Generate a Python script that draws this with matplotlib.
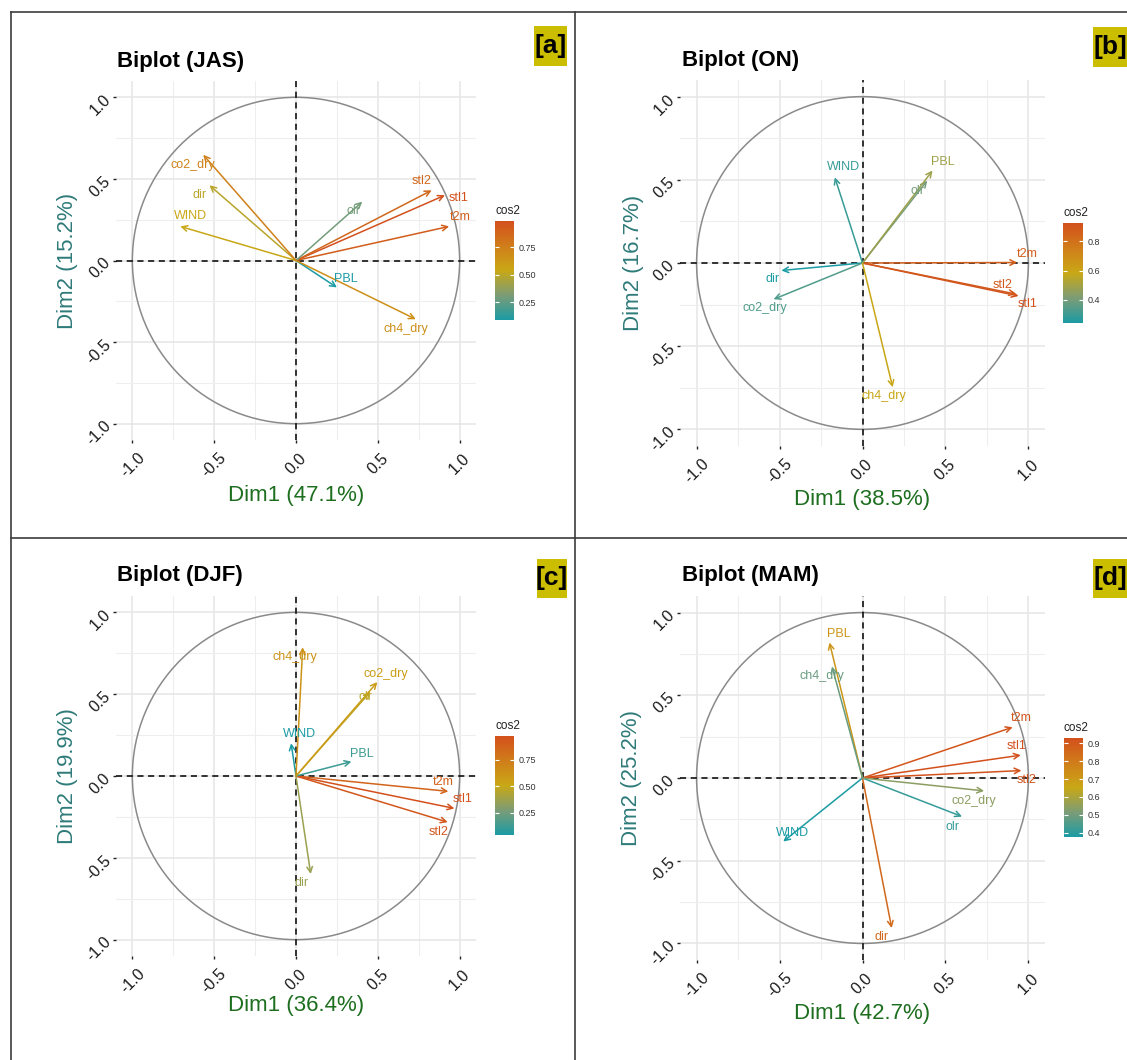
import numpy as np
import matplotlib
matplotlib.use("Agg")
import matplotlib.pyplot as plt
from matplotlib.colors import LinearSegmentedColormap, Normalize
from matplotlib.cm import ScalarMappable
from matplotlib.lines import Line2D
from matplotlib.patches import Rectangle, Circle

W, H = 1127, 1060

variables = ["t2m", "stl1", "stl2", "olr", "PBL", "WIND", "dir", "co2_dry", "ch4_dry"]

# variable coordinates (Dim1, Dim2) per season
jas_dim1 = [0.936, 0.910, 0.829, 0.405, 0.250, -0.707, -0.529, -0.567, 0.732]
jas_dim2 = [0.209, 0.400, 0.430, 0.360, -0.165, 0.209, 0.461, 0.648, -0.360]

on_dim1 = [0.932, 0.941, 0.926, 0.390, 0.422, -0.167, -0.489, -0.536, 0.182]
on_dim2 = [0.003, -0.198, -0.187, 0.495, 0.556, 0.515, -0.045, -0.218, -0.747]

djf_dim1 = [0.931, 0.968, 0.927, 0.455, 0.339, -0.030, 0.090, 0.497, 0.041]
djf_dim2 = [-0.094, -0.198, -0.282, 0.515, 0.088, 0.200, -0.599, 0.574, 0.787]

mam_dim1 = [0.905, 0.954, 0.958, 0.600, -0.199, -0.478, 0.176, 0.733, -0.184]
mam_dim2 = [0.307, 0.138, 0.045, -0.233, 0.819, -0.384, -0.907, -0.078, 0.674]

seasons = ["JAS", "ON", "DJF", "MAM"]
dim1_pct = [47.1, 38.5, 36.4, 42.7]
dim2_pct = [15.2, 16.7, 19.9, 25.2]
panel_tags = ["[a]", "[b]", "[c]", "[d]"]

axis_ticks = [-1.0, -0.5, 0.0, 0.5, 1.0]
minor_ticks = [-0.75, -0.25, 0.25, 0.75]
cbar_ticks = [[0.25, 0.50, 0.75], [0.4, 0.6, 0.8], [0.25, 0.50, 0.75],
              [0.4, 0.5, 0.6, 0.7, 0.8, 0.9]]
cbar_fmt = ["%.2f", "%.1f", "%.2f", "%.1f"]

# label offsets in pixels (right, up) - repel-like placement
label_off = [
    [(11, 9), (14, -3), (-10, 9), (-9, -9), (9, 8), (10, 10), (-10, -10), (-10, -10), (-10, -10)],
    [(10, 9), (9, -8), (-14, 9), (-10, -10), (10, 9), (9, 10), (-9, -9), (-9, -9), (-9, -9)],
    [(-5, 9), (8, 9), (-9, -10), (-5, -5), (10, 8), (8, 9), (-9, -9), (8, 8), (-8, -10)],
    [(9, 9), (-4, 9), (5, -9), (-10, -10), (9, 8), (9, 9), (-10, -9), (-10, -10), (-10, -10)],
]

# layout in pixels: (left, top, right, bottom)
ax_box = [(116, 81, 476, 440), (680, 80, 1045, 446), (116, 596, 476, 956), (680, 596, 1045, 960)]
cb_box = [(495, 221, 514, 320), (1063, 223, 1083, 323), (495, 736, 514, 835), (1064, 738, 1083, 837)]
title_pos = [(117, 67), (682, 66), (117, 581), (682, 581)]
tag_box = [(534, 26, 567, 66), (1093, 27, 1127, 67), (537, 559, 567, 598), (1093, 559, 1127, 598)]
xlab_y = [495, 500, 1006, 1014]
ylab_x = [68, 634, 68, 632]

plt.rcParams['font.family'] = ['Liberation Sans', 'DejaVu Sans']

# teal -> yellow -> red-orange, muted mid tones like the reference gradient
cmap = LinearSegmentedColormap.from_list(
    "cos2", [(0.0, "#1b9ba4"), (0.25, "#7c9c76"), (0.5, "#c9a816"),
             (0.75, "#d07d1a"), (1.0, "#d3501c")])


def fx(px):
    return px / W


def fy(py):
    return 1 - py / H


def box_axes(fig, b):
    l, t, r, bt = b
    return fig.add_axes([fx(l), fy(bt), (r - l) / W, (bt - t) / H])


fig = plt.figure(figsize=(W / 100, H / 100), dpi=100)

all_d1 = [jas_dim1, on_dim1, djf_dim1, mam_dim1]
all_d2 = [jas_dim2, on_dim2, djf_dim2, mam_dim2]

for i in range(4):
    d1 = np.array(all_d1[i])
    d2 = np.array(all_d2[i])
    cos2 = d1 ** 2 + d2 ** 2
    norm = Normalize(vmin=cos2.min(), vmax=cos2.max())

    ax = box_axes(fig, ax_box[i])
    ax.set_xlim(-1.1, 1.1)
    ax.set_ylim(-1.1, 1.1)
    for s in ax.spines.values():
        s.set_visible(False)
    ax.set_xticks(axis_ticks)
    ax.set_yticks(axis_ticks)
    ax.set_xticks(minor_ticks, minor=True)
    ax.set_yticks(minor_ticks, minor=True)
    ax.set_xticklabels([f"{v:.1f}" for v in axis_ticks], rotation=45, ha='center', va='top')
    ax.set_yticklabels([f"{v:.1f}" for v in axis_ticks], rotation=45, ha='right', va='center',
                       rotation_mode='anchor')
    ax.tick_params(which='major', length=2.5, width=1, color='#222222', labelsize=11.5,
                   labelcolor='#1a1a1a')
    ax.tick_params(axis='x', pad=5)
    ax.tick_params(axis='y', pad=3)
    ax.tick_params(which='minor', length=0)
    ax.grid(which='major', color='#e6e6e6', lw=1.1)
    ax.grid(which='minor', color='#eeeeee', lw=0.8)
    ax.set_axisbelow(True)

    ax.add_patch(Circle((0, 0), 1, fill=False, color='#8a8a8a', lw=1.1, zorder=2))
    ax.axhline(0, color='black', ls=(0, (4, 3)), lw=1.1, zorder=2)
    ax.axvline(0, color='black', ls=(0, (4, 3)), lw=1.1, zorder=2)

    for j, name in enumerate(variables):
        c = cmap(norm(cos2[j]))
        ax.annotate('', xy=(d1[j], d2[j]), xytext=(0, 0),
                    arrowprops=dict(arrowstyle='->', color=c, lw=1.1, shrinkA=0, shrinkB=0,
                                    mutation_scale=10), zorder=3)
        ox, oy = label_off[i][j]
        ax.annotate(name, xy=(d1[j], d2[j]), xytext=(ox, oy), textcoords='offset pixels',
                    ha='center', va='center', fontsize=9, color=c, zorder=4)

    # colorbar
    cax = box_axes(fig, cb_box[i])
    cb = fig.colorbar(ScalarMappable(norm=norm, cmap=cmap), cax=cax, ticks=cbar_ticks[i],
                      format=cbar_fmt[i])
    cb.outline.set_visible(False)
    cax.tick_params(which='both', left=True, right=True, direction='in', color='white',
                    length=3, width=0.8, labelsize=6.5, labelcolor='#333333', pad=3)
    l, t, r, bt = cb_box[i]
    fig.text(fx(l), fy(t - 10), "cos2", fontsize=8.5, color='#222222', ha='left', va='center')

    # titles and axis labels
    tx, ty = title_pos[i]
    fig.text(fx(tx), fy(ty), f"Biplot ({seasons[i]})", fontsize=16, fontweight='bold',
             ha='left', va='baseline')
    l, t, r, bt = ax_box[i]
    cx = (l + r) / 2
    cy = (t + bt) / 2
    fig.text(fx(cx), fy(xlab_y[i]), f"Dim1 ({dim1_pct[i]:.1f}%)", fontsize=16,
             color='#1d6e1f', ha='center', va='center')
    fig.text(fx(ylab_x[i]), fy(cy), f"Dim2 ({dim2_pct[i]:.1f}%)", fontsize=16,
             color='#2f7b79', ha='center', va='center', rotation=90)

    # panel tag
    bl, bt_, br, bb = tag_box[i]
    fig.add_artist(Rectangle((fx(bl), fy(bb)), (br - bl) / W, (bb - bt_) / H,
                             transform=fig.transFigure, facecolor='#cbbd00', edgecolor='none'))
    fig.text(fx((bl + br) / 2), fy((bt_ + bb) / 2), panel_tags[i], fontsize=19,
             fontweight='bold', ha='center', va='center', color='black')

# frame lines between panels
frame_col = '#3c3c3c'
for (x0, y0, x1, y1) in [(10.5, 12, W, 12), (10.5, 12, 10.5, H), (575, 12, 575, H),
                         (10.5, 538, W, 538)]:
    fig.add_artist(Line2D([fx(x0), fx(x1)], [fy(y0), fy(y1)], transform=fig.transFigure,
                          color=frame_col, lw=1.2))

fig.savefig("out.png", dpi=100)
